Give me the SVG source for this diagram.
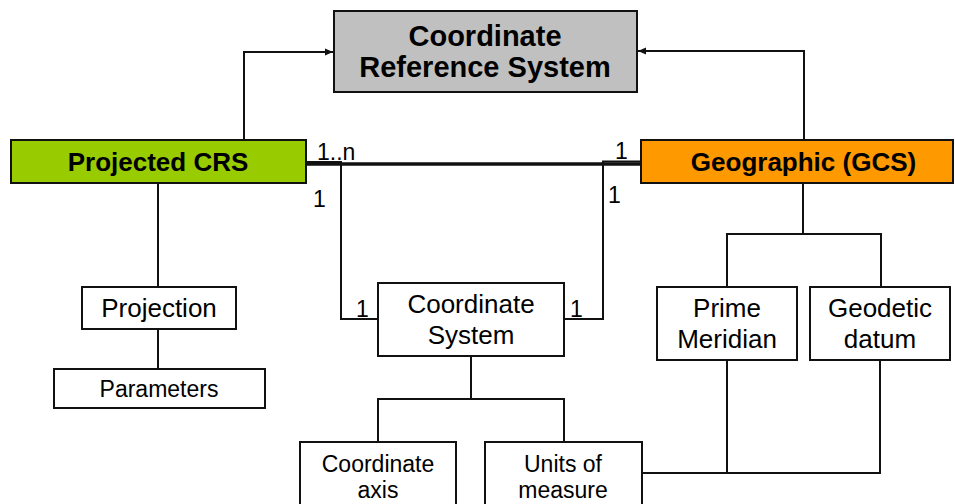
<svg xmlns="http://www.w3.org/2000/svg" width="955" height="504" viewBox="0 0 955 504">
<defs>
<style>
.box{stroke:#111;stroke-width:2;fill:#fff}
.ln{stroke:#111;stroke-width:2;fill:none}
.t{font-family:"Liberation Sans",Arial,sans-serif;fill:#000;text-anchor:middle}
.b{font-weight:bold}
.lbl{font-family:"Liberation Sans",Arial,sans-serif;font-size:23px;fill:#000}
</style>
<marker id="ah" markerWidth="8" markerHeight="8" refX="8" refY="4" orient="auto" markerUnits="userSpaceOnUse">
<path d="M0,0.5 L8,4 L0,7.5 Z" fill="#111"/>
</marker>
</defs>
<rect width="955" height="504" fill="#fff"/>
<g id="connectors">
<polyline class="ln" points="244,140 244,52 333,52" marker-end="url(#ah)"/>
<polyline class="ln" points="804,140 804,51 638,51" marker-end="url(#ah)"/>
<line x1="306" y1="164" x2="641" y2="164" stroke="#111" stroke-width="3.5"/>
<line x1="306" y1="162" x2="342" y2="162" stroke="#111" stroke-width="2"/>
<line x1="602" y1="161.5" x2="641" y2="161.5" stroke="#111" stroke-width="2"/>
<polyline class="ln" points="341,162 341,319 378,319"/>
<polyline class="ln" points="603,161 603,319 564,319"/>
<line class="ln" x1="158" y1="183" x2="158" y2="287"/>
<line class="ln" x1="158" y1="329" x2="158" y2="369"/>
<line class="ln" x1="471" y1="356" x2="471" y2="399"/>
<polyline class="ln" points="378,442 378,399 564,399 564,442"/>
<line class="ln" x1="803" y1="183" x2="803" y2="234"/>
<polyline class="ln" points="727,287 727,234 881,234 881,287"/>
<polyline class="ln" points="727,360 727,473"/>
<polyline class="ln" points="642,473 880,473 880,360"/>
<text class="lbl" x="317" y="160">1..n</text>
<text class="lbl" x="313" y="207">1</text>
<text class="lbl" x="615" y="159">1</text>
<text class="lbl" x="608" y="203">1</text>
<text class="lbl" x="356" y="317">1</text>
<text class="lbl" x="570" y="317">1</text>
</g>
<g id="crs">
<rect x="334" y="11" width="303" height="81" fill="#c0c0c0" stroke="#111" stroke-width="2"/>
<text class="t b" x="485" y="46" font-size="29">Coordinate</text>
<text class="t b" x="485" y="77" font-size="29">Reference System</text>
</g>
<g id="projected">
<rect x="11" y="140" width="295" height="43" fill="#99cc00" stroke="#111" stroke-width="2"/>
<text class="t b" x="158" y="171" font-size="26">Projected CRS</text>
</g>
<g id="geographic">
<rect x="641" y="140" width="312" height="43" fill="#ff9900" stroke="#111" stroke-width="2"/>
<text class="t b" x="803.5" y="171" font-size="26">Geographic (GCS)</text>
</g>
<g id="projection">
<rect class="box" x="82" y="287" width="154" height="42"/>
<text class="t" x="159" y="317" font-size="26">Projection</text>
</g>
<g id="parameters">
<rect class="box" x="54" y="369" width="211" height="39"/>
<text class="t" x="159" y="397" font-size="23">Parameters</text>
</g>
<g id="coordsys">
<rect class="box" x="378" y="283" width="186" height="73"/>
<text class="t" x="471" y="313" font-size="26">Coordinate</text>
<text class="t" x="471" y="344" font-size="26">System</text>
</g>
<g id="primemeridian">
<rect class="box" x="657" y="287" width="140" height="73"/>
<text class="t" x="727" y="317" font-size="26">Prime</text>
<text class="t" x="727" y="348" font-size="26">Meridian</text>
</g>
<g id="geodeticdatum">
<rect class="box" x="810" y="287" width="140" height="73"/>
<text class="t" x="880" y="317" font-size="26">Geodetic</text>
<text class="t" x="880" y="348" font-size="26">datum</text>
</g>
<g id="coordaxis">
<rect class="box" x="300" y="442" width="156" height="70"/>
<text class="t" x="378" y="472" font-size="23">Coordinate</text>
<text class="t" x="378" y="498" font-size="23">axis</text>
</g>
<g id="units">
<rect class="box" x="485" y="442" width="157" height="70"/>
<text class="t" x="563" y="472" font-size="23">Units of</text>
<text class="t" x="563" y="498" font-size="23">measure</text>
</g>
</svg>
